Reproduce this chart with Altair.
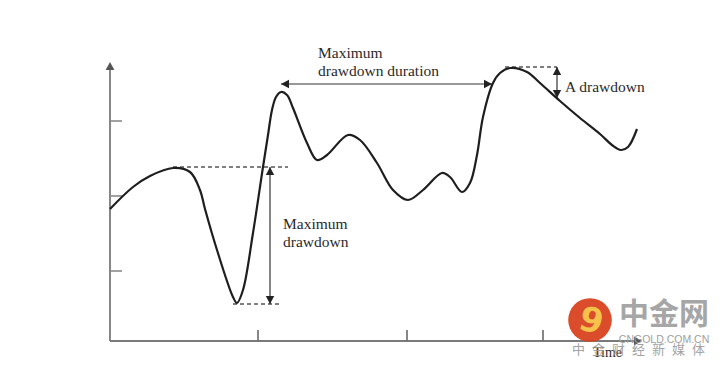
import altair as alt
import pandas as pd

# Curve (time t, value v)
curve_t = [0, 23, 40, 63, 80, 90, 95, 107, 123, 127, 133, 143, 153, 158, 162, 166, 171, 177, 183, 197, 207,
           217, 238, 250, 267, 283, 298, 313, 332, 340, 352, 360, 367, 373, 383, 390, 400, 417, 430, 450,
           470, 490, 502, 511, 518, 527]
curve_v = [132, 154, 165, 173, 169, 151, 132, 91, 44, 38, 51, 108, 174, 206, 231, 244, 249, 246, 233, 198, 181,
           186, 206, 201, 178, 151, 141, 151, 168, 164, 149, 158, 186, 224, 258, 268, 273, 269, 258, 240,
           223, 207, 196, 191, 194, 212]

# Axes
axis_t = [0, 0]
axis_v = [0, 0]
axis_t2 = [0, 527]
axis_v2 = [274, 0]
ytick_values = [220, 145, 70]
xtick_values = [148, 297, 433]
tick_len = 12

# Annotation values
dash_t = [63, 123, 395]
dash_t2 = [178, 172, 447]
dash_v = [174, 37, 274]
shaft_t = [160, 171, 447]
shaft_v = [174, 257, 274]
shaft_t2 = [160, 382, 447]
shaft_v2 = [37, 257, 243]

head_t = [0, 532, 160, 160, 171, 382, 447, 447]
head_v = [279, 0, 174, 37, 257, 257, 274, 243]
head_a = [0, 90, 0, 180, 270, 90, 0, 180]
head_kind = ["axis", "axis", "ann", "ann", "ann", "ann", "ann", "ann"]

label_text = ["Maximum\ndrawdown duration", "Maximum\ndrawdown", "A drawdown"]
label_t = [208, 173, 455]
label_v = [288.5, 117, 254]

xs = alt.Scale(domain=[-102, 606], nice=False, zero=False)
ys = alt.Scale(domain=[-20, 333], nice=False, zero=False)

def X(f="t"):
    return alt.X(f + ":Q", scale=xs, axis=None)

def Y(f="v"):
    return alt.Y(f + ":Q", scale=ys, axis=None)

curve = alt.Chart(pd.DataFrame({"t": curve_t, "v": curve_v})).mark_line(
    interpolate="catmull-rom", color="#1e1e1e", strokeWidth=2.2
).encode(x=X(), y=Y(), order="t:Q")

axes = alt.Chart(pd.DataFrame({"t": axis_t, "v": axis_v, "t2": axis_t2, "v2": axis_v2})).mark_rule(
    color="#7a7a7a", strokeWidth=1.8
).encode(x=X(), y=Y(), x2="t2:Q", y2="v2:Q")

yt = alt.Chart(pd.DataFrame({"t": [0] * 3, "t2": [tick_len] * 3, "v": ytick_values})).mark_rule(
    color="#8a8a8a", strokeWidth=1.6
).encode(x=X(), x2="t2:Q", y=Y())

xt = alt.Chart(pd.DataFrame({"t": xtick_values, "v": [0] * 3, "v2": [tick_len - 1] * 3})).mark_rule(
    color="#6a6a6a", strokeWidth=1.6
).encode(x=X(), y=Y(), y2="v2:Q")

dashes = alt.Chart(pd.DataFrame({"t": dash_t, "t2": dash_t2, "v": dash_v})).mark_rule(
    color="#555555", strokeWidth=1.4, strokeDash=[4, 3]
).encode(x=X(), x2="t2:Q", y=Y())

shafts = alt.Chart(pd.DataFrame({"t": shaft_t, "v": shaft_v, "t2": shaft_t2, "v2": shaft_v2})).mark_rule(
    color="#333333", strokeWidth=1.2
).encode(x=X(), y=Y(), x2="t2:Q", y2="v2:Q")

heads_df = pd.DataFrame({"t": head_t, "v": head_v, "a": head_a, "k": head_kind})
heads_axis = alt.Chart(heads_df[heads_df.k == "axis"]).mark_point(
    shape="M0,0L-1.1,2L1.1,2Z", filled=True, size=64, color="#555555", opacity=1
).encode(x=X(), y=Y(), angle=alt.Angle("a:Q", scale=None))
heads_ann = alt.Chart(heads_df[heads_df.k == "ann"]).mark_point(
    shape="M0,0L-1.05,2L1.05,2Z", filled=True, size=64, color="#222222", opacity=1
).encode(x=X(), y=Y(), angle=alt.Angle("a:Q", scale=None))

labels = alt.Chart(pd.DataFrame({"t": label_t, "v": label_v, "s": label_text})).mark_text(
    font="Liberation Serif", fontSize=15.5, color="#2a2a2a", align="left", baseline="middle",
    lineBreak="\n", lineHeight=18
).encode(x=X(), y=Y(), text="s:N")

time_lbl = alt.Chart(pd.DataFrame({"t": [497.5], "v": [-12], "s": ["Time"]})).mark_text(
    font="Liberation Serif", fontSize=14, color="#2a2a2a", align="center", baseline="middle"
).encode(x=X(), y=Y(), text="s:N")

# Watermark
logo = alt.Chart(pd.DataFrame({"t": [480], "v": [21]})).mark_point(
    shape="circle", filled=True, size=1900, color="#d8421f", opacity=0.95
).encode(x=X(), y=Y())
logo_inner = alt.Chart(pd.DataFrame({"t": [481], "v": [19], "s": ["9"]})).mark_text(
    font="DejaVu Sans", fontWeight="bold", fontSize=34, color="#f6c24c", align="center",
    baseline="middle", angle=15
).encode(x=X(), y=Y(), text="s:N")
wm_big = alt.Chart(pd.DataFrame({"t": [554], "v": [26], "s": ["中金网"]})).mark_text(
    font="Noto Sans CJK SC", fontWeight="bold", fontSize=30, color="#a6a6a6", align="center",
    baseline="middle"
).encode(x=X(), y=Y(), text="s:N")
wm_small = alt.Chart(pd.DataFrame({"t": [554], "v": [1], "s": ["CNGOLD.COM.CN"]})).mark_text(
    font="Liberation Sans", fontSize=10.5, color="#a0a0a0", align="center", baseline="middle"
).encode(x=X(), y=Y(), text="s:N")
cn_chars = ["中", "金", "财", "经", "新", "媒", "体"]
cn_t = [468.5, 488.5, 508.5, 528.5, 548.5, 568.5, 588.5]
wm_cn = alt.Chart(pd.DataFrame({"t": cn_t, "v": [-9] * 7, "s": cn_chars})).mark_text(
    font="Noto Sans CJK SC", fontSize=13, color="#9a9a9a", align="center", baseline="middle", opacity=0.9
).encode(x=X(), y=Y(), text="s:N")

chart = alt.layer(
    axes, yt, xt, dashes, shafts, heads_axis, heads_ann, curve, labels, time_lbl,
    logo, logo_inner, wm_big, wm_small, wm_cn
).properties(
    width=708, height=353, autosize=alt.AutoSizeParams(type="none"), padding=0,
    background="white"
).configure_view(stroke=None)

chart.save("out.html", embed_options={"renderer": "svg", "actions": False})
